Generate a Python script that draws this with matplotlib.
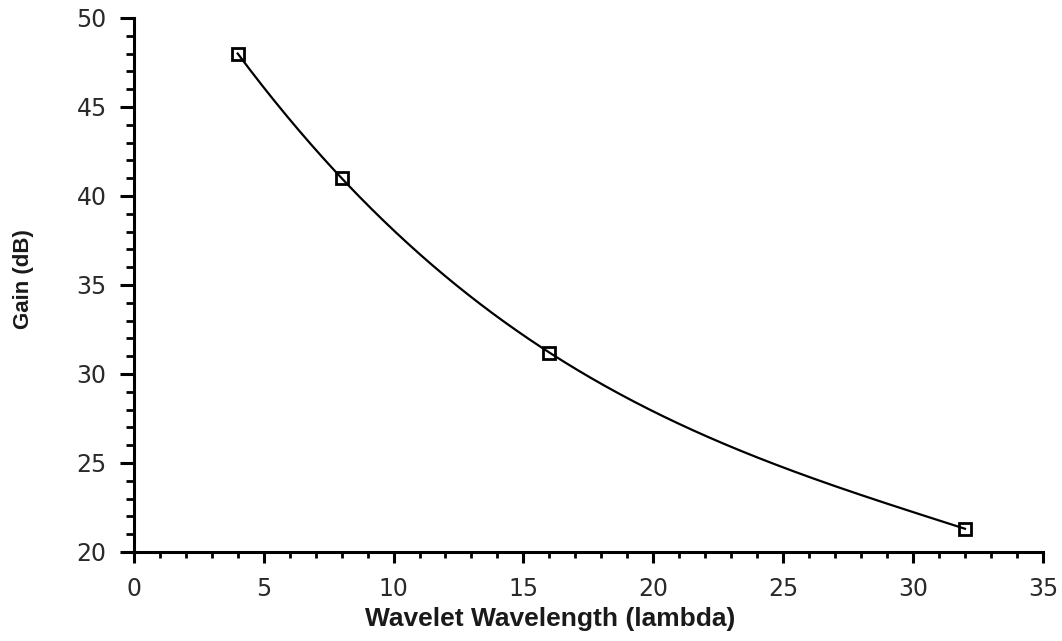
import numpy as np
import matplotlib.pyplot as plt
from matplotlib.ticker import MultipleLocator

wavelength = [4, 8, 16, 32]
gain_db = [48.0, 41.0, 31.2, 21.3]

x_label = "Wavelet Wavelength (lambda)"
y_label = "Gain (dB)"

# smooth curve through the measured points (cubic through the four values)
coef = np.polyfit(wavelength, gain_db, 3)
xs = np.linspace(wavelength[0], wavelength[-1], 300)

fig = plt.figure(figsize=(10.62, 6.41), dpi=100)
ax = fig.add_axes([0.126, 0.139, 0.856, 0.833])

ax.plot(xs, np.polyval(coef, xs), "-", color="black", lw=1.6)
ax.plot(wavelength, gain_db, "s", ms=9, mfc="none", mec="black", mew=2)

ax.set_xlim(0, 35)
ax.set_ylim(20, 50)
ax.xaxis.set_major_locator(MultipleLocator(5))
ax.xaxis.set_minor_locator(MultipleLocator(1))
ax.yaxis.set_major_locator(MultipleLocator(5))
ax.yaxis.set_minor_locator(MultipleLocator(1))

for side in ["top", "right"]:
    ax.spines[side].set_visible(False)
for side in ["left", "bottom"]:
    ax.spines[side].set_linewidth(2.2)

ax.tick_params(axis="x", which="major", length=8, width=2.2, direction="out", pad=10)
ax.tick_params(axis="x", which="minor", length=4.5, width=2, direction="out")
ax.tick_params(axis="y", which="major", length=10, width=2.2, direction="out", pad=9.5)
ax.tick_params(axis="y", which="minor", length=6, width=2, direction="out")
for lab in ax.get_xticklabels() + ax.get_yticklabels():
    lab.set_fontfamily("DejaVu Sans")
    lab.set_fontsize(17)
    lab.set_color("#2a2a2a")

ax.set_xlabel(x_label, fontsize=19, fontweight="bold", family="Liberation Sans", color="#1a1a1a")
ax.set_ylabel(y_label, fontsize=16, fontweight="bold", family="Liberation Sans", color="#1a1a1a")
ax.xaxis.set_label_coords(0.458, -0.125)
ax.yaxis.set_label_coords(-0.121, 0.511)
ax.xaxis.label.set_va("center")
ax.yaxis.label.set_va("center")

fig.savefig("out.png", dpi=100)
